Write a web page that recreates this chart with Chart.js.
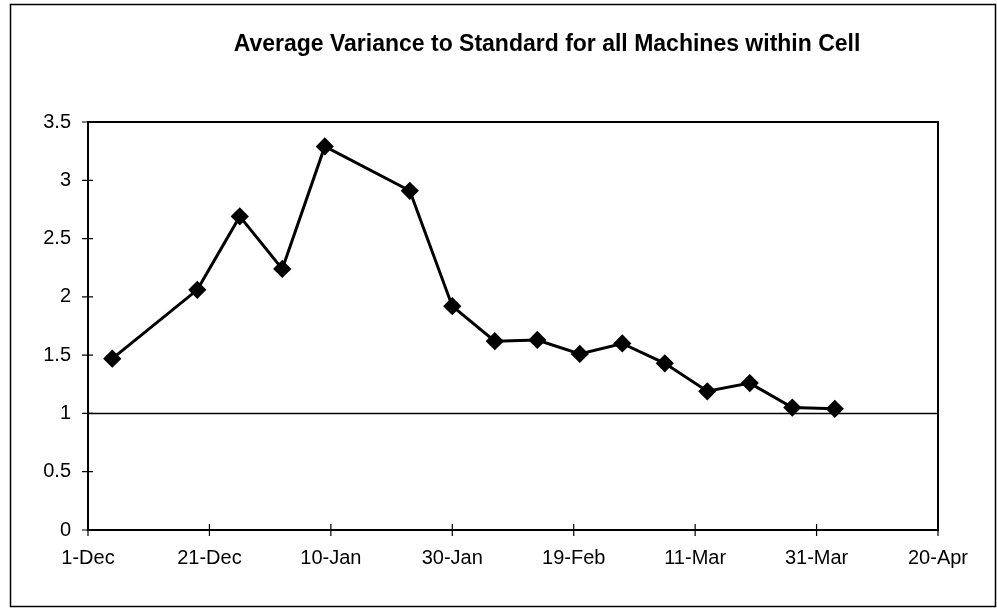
<!DOCTYPE html>
<html>
<head>
<meta charset="utf-8">
<script src="https://cdn.jsdelivr.net/npm/chart.js@4/dist/chart.umd.min.js"></script>
<style>
  html, body { margin: 0; padding: 0; background: #fff; }
  #wrap { width: 997px; height: 609px; position: relative; }
</style>
</head>
<body>
<div id="wrap"><canvas id="chart" width="997" height="609"></canvas></div>
<script>
// weekly readings
const pointDates = ["5-Dec", "19-Dec", "26-Dec", "2-Jan", "9-Jan", "23-Jan", "30-Jan", "6-Feb",
  "13-Feb", "20-Feb", "27-Feb", "6-Mar", "13-Mar", "20-Mar", "27-Mar", "3-Apr"];
const varianceValues = [1.47, 2.06, 2.69, 2.24, 3.29, 2.91, 1.92, 1.62,
  1.63, 1.51, 1.60, 1.43, 1.19, 1.26, 1.05, 1.04];
const standardValue = 1;
const xTickLabels = ["1-Dec", "21-Dec", "10-Jan", "30-Jan", "19-Feb", "11-Mar", "31-Mar", "20-Apr"];
const yTickLabels = ["0", "0.5", "1", "1.5", "2", "2.5", "3", "3.5"];
const titleText = "Average Variance to Standard for all Machines within Cell";

const months = { Dec: [2002, 11], Jan: [2003, 0], Feb: [2003, 1], Mar: [2003, 2], Apr: [2003, 3] };
const start = Date.UTC(2002, 11, 1);
const dayOf = (s) => {
  const [d, m] = s.split("-");
  return (Date.UTC(months[m][0], months[m][1], +d) - start) / 86400000;
};
const xMax = dayOf(xTickLabels[xTickLabels.length - 1]);

const fontFamily = "'Liberation Sans', Arial, Helvetica, sans-serif";

// frame, plot box, crossing tick marks and the title
const decor = {
  id: "decor",
  beforeDraw(chart) {
    const { ctx } = chart;
    ctx.save();
    ctx.strokeStyle = "#000";
    ctx.lineWidth = 1.5;
    ctx.strokeRect(10.5, 4.5, 985, 602);
    ctx.restore();
  },
  afterDraw(chart) {
    const { ctx, chartArea: a, scales } = chart;
    ctx.save();
    ctx.strokeStyle = "#000";
    ctx.lineWidth = 2;
    ctx.strokeRect(a.left, a.top, a.right - a.left, a.bottom - a.top);
    ctx.lineWidth = 1.2;
    ctx.beginPath();
    scales.x.ticks.forEach((t) => {
      const px = scales.x.getPixelForValue(t.value);
      ctx.moveTo(px, a.bottom - 6);
      ctx.lineTo(px, a.bottom + 6);
    });
    scales.y.ticks.forEach((t) => {
      const py = scales.y.getPixelForValue(t.value);
      ctx.moveTo(a.left - 6, py);
      ctx.lineTo(a.left + 5, py);
    });
    ctx.stroke();
    ctx.fillStyle = "#000";
    ctx.font = "bold 23px " + fontFamily;
    ctx.textAlign = "center";
    ctx.textBaseline = "middle";
    ctx.fillText(titleText, 547, 45);
    ctx.restore();
  }
};

new Chart(document.getElementById("chart"), {
  type: "line",
  data: {
    datasets: [
      {
        label: "Variance",
        data: pointDates.map((d, i) => ({ x: dayOf(d), y: varianceValues[i] })),
        borderColor: "#000",
        backgroundColor: "#000",
        borderWidth: 3,
        pointStyle: "rectRot",
        pointRadius: 7,
        pointHoverRadius: 7,
        tension: 0,
        order: 1
      },
      {
        label: "Standard",
        data: [{ x: 0, y: standardValue }, { x: xMax, y: standardValue }],
        borderColor: "#000",
        borderWidth: 1.5,
        pointRadius: 0,
        order: 2
      }
    ]
  },
  options: {
    responsive: false,
    animation: false,
    layout: { padding: { left: 0, right: 59, top: 122, bottom: 0 } },
    plugins: {
      legend: { display: false },
      title: { display: false },
      tooltip: { enabled: false }
    },
    scales: {
      x: {
        type: "linear",
        min: 0,
        max: xMax,
        afterFit: (s) => { s.height = 79; },
        afterBuildTicks: (s) => { s.ticks = xTickLabels.map((l) => ({ value: dayOf(l) })); },
        grid: { display: false },
        border: { display: false },
        ticks: {
          padding: 8,
          color: "#000",
          font: { family: fontFamily, size: 20 },
          maxRotation: 0,
          callback: (v, i) => xTickLabels[i]
        }
      },
      y: {
        min: 0,
        max: 3.5,
        afterFit: (s) => { s.width = 88; },
        grid: { display: false },
        border: { display: false },
        ticks: {
          stepSize: 0.5,
          padding: 9,
          color: "#000",
          font: { family: fontFamily, size: 20 },
          callback: (v, i) => yTickLabels[i]
        }
      }
    }
  },
  plugins: [decor]
});
</script>
</body>
</html>
